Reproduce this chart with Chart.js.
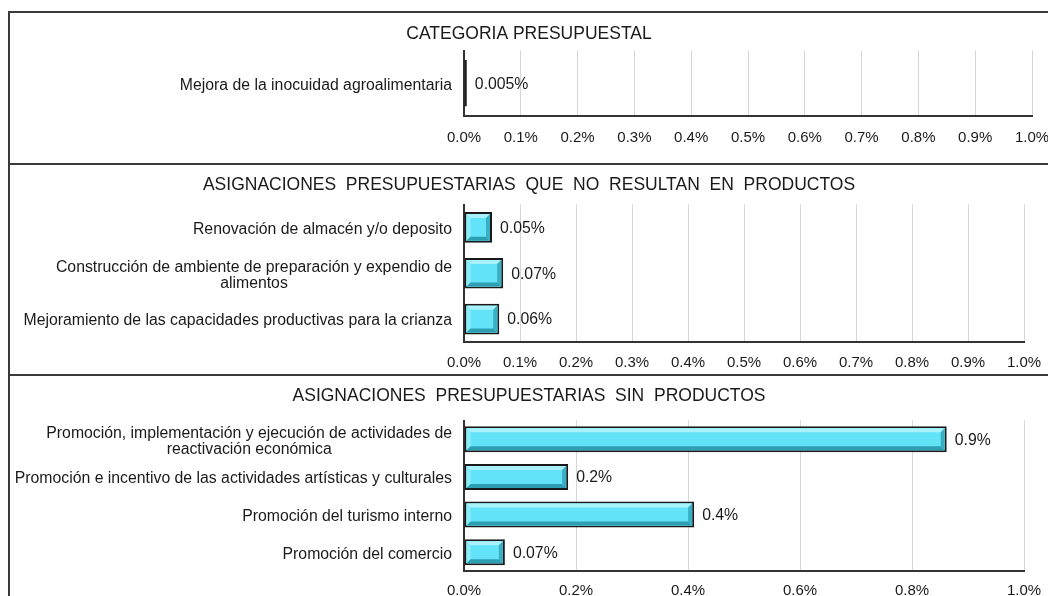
<!DOCTYPE html>
<html>
<head>
<meta charset="utf-8">
<script src="https://cdn.jsdelivr.net/npm/chart.js@4.4.1/dist/chart.umd.min.js"></script>
<style>
  body { margin: 0; background: #fff; overflow: hidden; }
  .frame { position: absolute; left: 8px; top: 11px; width: 1100px; height: 700px;
           border-left: 2px solid #3a3a3a; border-top: 2px solid #3a3a3a; }
  .sep { position: absolute; left: 8px; width: 1100px; height: 2px; background: #3a3a3a; }
  .panel { position: absolute; left: 10px; width: 1038px; }
</style>
</head>
<body>
<div class="frame"></div>
<div class="sep" style="top:163px"></div>
<div class="sep" style="top:374px"></div>
<div class="panel" style="top:13px;height:150px"><canvas id="c1"></canvas></div>
<div class="panel" style="top:165px;height:209px"><canvas id="c2"></canvas></div>
<div class="panel" style="top:376px;height:220px"><canvas id="c3"></canvas></div>
<script>
// --- data ---
const title1 = "CATEGORIA PRESUPUESTAL";
const cats1 = ["Mejora de la inocuidad agroalimentaria"];
const values1 = [0.005];
const valueText1 = ["0.005%"];

const title2 = "ASIGNACIONES  PRESUPUESTARIAS  QUE  NO  RESULTAN  EN  PRODUCTOS";
const cats2 = [
  "Renovación de almacén y/o deposito",
  ["Construcción de ambiente de preparación y expendio de", "alimentos"],
  "Mejoramiento de las capacidades productivas para la crianza"
];
const values2 = [0.05, 0.07, 0.063];
const valueText2 = ["0.05%", "0.07%", "0.06%"];

const title3 = "ASIGNACIONES  PRESUPUESTARIAS  SIN  PRODUCTOS";
const cats3 = [
  ["Promoción, implementación y ejecución de actividades de", "reactivación económica"],
  "Promoción e incentivo de las actividades artísticas y culturales",
  "Promoción del turismo interno",
  "Promoción del comercio"
];
const values3 = [0.862, 0.186, 0.411, 0.073];
const valueText3 = ["0.9%", "0.2%", "0.4%", "0.07%"];

const ticksTenth = ["0.0%", "0.1%", "0.2%", "0.3%", "0.4%", "0.5%", "0.6%", "0.7%", "0.8%", "0.9%", "1.0%"];
const ticksFifth = ["0.0%", "0.2%", "0.4%", "0.6%", "0.8%", "1.0%"];

const FONT = '"Liberation Sans", Arial, sans-serif';
const TXT = "#1a1a1a";
const LABEL_SIZE = 15.8;

// bevel look of the bars, value labels and centred category labels
const decor = {
  id: "decor",
  afterDatasetsDraw(chart, args, opts) {
    const ctx = chart.ctx;
    const meta = chart.getDatasetMeta(0);
    ctx.save();
    meta.data.forEach((bar, i) => {
      const p = bar.getProps(["x", "y", "base", "height"], true);
      const bw = 2;
      const l = Math.min(p.x, p.base) + bw, r = Math.max(p.x, p.base) - bw;
      const t = p.y - p.height / 2 + bw, b = p.y + p.height / 2 - bw;
      const e = Math.min(4, (r - l) / 2, (b - t) / 2);
      if (e > 0) {
        const poly = (pts, col) => {
          ctx.beginPath();
          pts.forEach((q, k) => k ? ctx.lineTo(q[0], q[1]) : ctx.moveTo(q[0], q[1]));
          ctx.closePath();
          ctx.fillStyle = col;
          ctx.fill();
        };
        poly([[l, t], [r, t], [r - e, t + e], [l + e, t + e]], "#a9f2fc");
        poly([[l, t], [l + e, t + e], [l + e, b - e], [l, b]], "#8eecfa");
        poly([[l, b], [l + e, b - e], [r - e, b - e], [r, b]], "#2c9fb2");
        poly([[r, t], [r, b], [r - e, b - e], [r - e, t + e]], "#3aaec2");
      }
      ctx.font = LABEL_SIZE + "px " + FONT;
      ctx.fillStyle = TXT;
      ctx.textAlign = "left";
      ctx.textBaseline = "middle";
      ctx.fillText(opts.text[i], Math.max(p.x, p.base) + 8, p.y + 1);
    });
    // category labels: block right-aligned, lines centred inside the block
    const ys = chart.scales.y;
    ctx.font = LABEL_SIZE + "px " + FONT;
    ctx.textAlign = "center";
    chart.data.labels.forEach((lab, i) => {
      const lines = [].concat(lab);
      const w = Math.max(...lines.map(s => ctx.measureText(s).width));
      const cx = chart.chartArea.left - 12 - w / 2;
      const cy = ys.getPixelForTick(i);
      lines.forEach((s, j) => ctx.fillText(s, cx, cy + 2 + (j - (lines.length - 1) / 2) * 16));
    });
    ctx.restore();
  }
};

function makeChart(id, cfg) {
  return new Chart(document.getElementById(id), {
    type: "bar",
    data: {
      labels: cfg.cats,
      datasets: [{
        data: cfg.values,
        backgroundColor: "#62e3f8",
        borderColor: "#1a1a1a",
        borderWidth: 2,
        borderSkipped: false,
        categoryPercentage: 1,
        barPercentage: cfg.barPct
      }]
    },
    options: {
      indexAxis: "y",
      responsive: true,
      maintainAspectRatio: false,
      animation: false,
      layout: { padding: { left: cfg.padRight, right: cfg.padRight, top: 0, bottom: 0 } },
      scales: {
        x: {
          min: 0, max: 1,
          ticks: {
            stepSize: cfg.step,
            padding: cfg.tickPad,
            color: TXT,
            font: { family: FONT, size: 15 },
            maxRotation: 0,
            autoSkip: false,
            callback: (v, i) => cfg.tickLabels[i]
          },
          grid: { color: "#d6d6d6", lineWidth: 1, drawTicks: false },
          border: { display: true, color: "#333", width: 2 },
          afterFit: s => { s.height = cfg.below; s.paddingLeft = 0; s.paddingRight = 0; }
        },
        y: {
          ticks: { display: false },
          grid: { display: false, drawTicks: false },
          border: { display: true, color: "#333", width: 2 },
          afterFit: s => { s.width = 454 - cfg.padRight; }
        }
      },
      plugins: {
        legend: { display: false },
        tooltip: { enabled: false },
        title: {
          display: true,
          text: cfg.title,
          color: TXT,
          font: { family: FONT, size: 17.5, weight: "normal", lineHeight: 1.2 },
          padding: { top: cfg.titleTop, bottom: cfg.titleBottom }
        },
        decor: { text: cfg.valueText }
      }
    },
    plugins: [decor]
  });
}

makeChart("c1", { cats: cats1, values: values1, valueText: valueText1, title: title1,
  tickLabels: ticksTenth, step: 0.1, barPct: 0.71, padRight: 16,
  titleTop: 10.5, titleBottom: 6, below: 47, tickPad: 13 });
makeChart("c2", { cats: cats2, values: values2, valueText: valueText2, title: title2,
  tickLabels: ticksTenth, step: 0.1, barPct: 0.67, padRight: 24,
  titleTop: 9.5, titleBottom: 9, below: 32, tickPad: 12 });
makeChart("c3", { cats: cats3, values: values3, valueText: valueText3, title: title3,
  tickLabels: ticksFifth, step: 0.2, barPct: 0.69, padRight: 24,
  titleTop: 9.5, titleBottom: 14, below: 25, tickPad: 11 });
</script>
</body>
</html>
